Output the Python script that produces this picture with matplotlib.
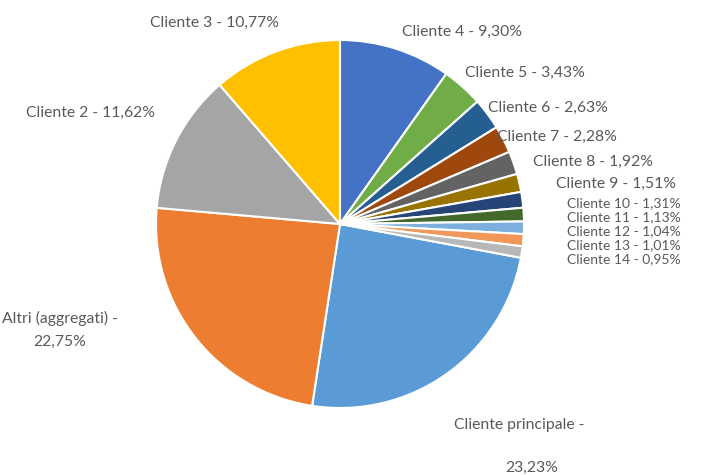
import matplotlib.pyplot as plt

# quote di fatturato per cliente
clienti = ['Cliente principale', 'Altri (aggregati)', 'Cliente 2', 'Cliente 3',
           'Cliente 4', 'Cliente 5', 'Cliente 6', 'Cliente 7', 'Cliente 8',
           'Cliente 9', 'Cliente 10', 'Cliente 11', 'Cliente 12', 'Cliente 13',
           'Cliente 14']
quote = [23.23, 22.75, 11.62, 10.77, 9.30, 3.43, 2.63, 2.28, 1.92,
         1.51, 1.31, 1.13, 1.04, 1.01, 0.95]

colori = ['#5B9BD5', '#ED7D31', '#A5A5A5', '#FFC000', '#4472C4', '#70AD47',
          '#255E91', '#9E480E', '#636363', '#997300', '#264478', '#43682B',
          '#7CAFDD', '#F1975A', '#B7B7B7']

# posizione delle etichette (pixel, origine in alto a sinistra)
pos_etichette = [(519, 425), (60, 318), (90, 113), (215, 23), (462, 32),
                 (525, 73), (548, 108), (557, 137), (593, 162), (616, 184),
                 (624, 203), (624, 217), (624, 231), (624, 245), (624, 259)]

W, H = 702, 475
fig = plt.figure(figsize=(W / 100, H / 100), dpi=100)
ax = fig.add_axes([0, 0, 1, 1])

totale = sum(quote)
# il Cliente 4 parte dalle ore 12, senso orario
inizio = 90 + 360 * sum(quote[:4]) / totale

cx, cy, r = 340, H - 224, 184
ax.pie(quote, colors=colori, startangle=inizio, counterclock=False,
       center=(cx, cy), radius=r,
       wedgeprops=dict(edgecolor='white', linewidth=1.5))

testo = dict(family='Lato', color='#595959', ha='center', va='center')
for i, (nome, q, (x, y)) in enumerate(zip(clienti, quote, pos_etichette)):
    valore = f'{q:.2f}'.replace('.', ',') + '%'
    fs = 11.3 if i < 10 else 10
    if nome == 'Cliente principale':
        ax.text(x, H - y, nome + ' -', fontsize=fs, **testo)
        ax.text(x + 13, H - y - 43, valore, fontsize=fs, **testo)
    elif nome == 'Altri (aggregati)':
        ax.text(x, H - y, nome + ' -', fontsize=fs, **testo)
        ax.text(x, H - y - 24, valore, fontsize=fs, **testo)
    else:
        ax.text(x, H - y, f'{nome} - {valore}', fontsize=fs, **testo)

ax.set_xlim(0, W)
ax.set_ylim(0, H)
ax.set_aspect('equal')
ax.axis('off')

fig.savefig('out.png', dpi=100, facecolor='white')
